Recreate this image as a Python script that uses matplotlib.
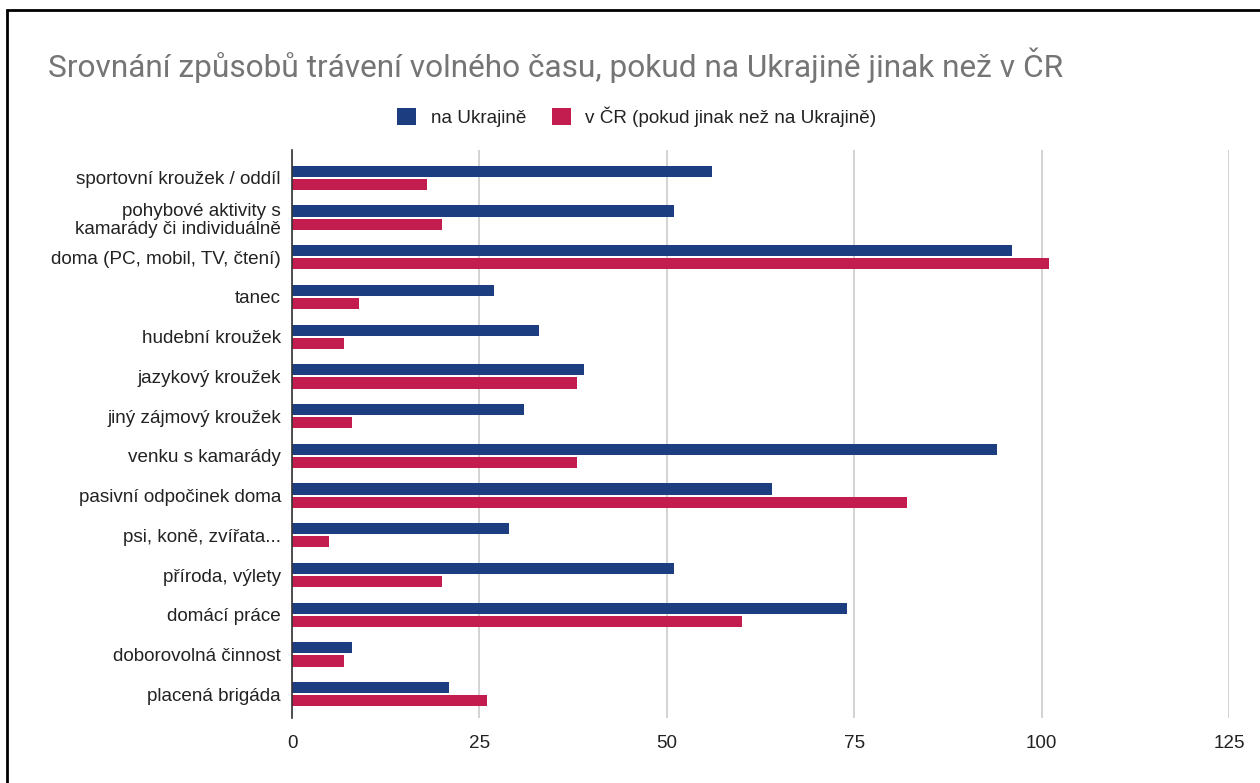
import numpy as np
import matplotlib
matplotlib.use("Agg")
import matplotlib.pyplot as plt
from matplotlib.patches import Rectangle, Patch

# data
categories = [
    "sportovní kroužek / oddíl",
    "pohybové aktivity s\nkamarády či individuálně",
    "doma (PC, mobil, TV, čtení)",
    "tanec",
    "hudební kroužek",
    "jazykový kroužek",
    "jiný zájmový kroužek",
    "venku s kamarády",
    "pasivní odpočinek doma",
    "psi, koně, zvířata...",
    "příroda, výlety",
    "domácí práce",
    "doborovolná činnost",
    "placená brigáda",
]
na_ukrajine = [56, 51, 96, 27, 33, 39, 31, 94, 64, 29, 51, 74, 8, 21]
v_cr = [18, 20, 101, 9, 7, 38, 8, 38, 82, 5, 20, 60, 7, 26]
x_ticks = [0, 25, 50, 75, 100, 125]

blue = "#1c3d7f"
red = "#c21d4e"

plt.rcParams['font.family'] = ['Liberation Sans', 'DejaVu Sans']

fig = plt.figure(figsize=(12.6, 7.83), dpi=100)
ax = fig.add_axes([292/1260, 1-718/783, (1229-292)/1260, (718-150)/783])

y = np.arange(len(categories))
h = 0.28
off = 0.165
ax.barh(y - off, na_ukrajine, height=h, color=blue, label="na Ukrajině", zorder=3)
ax.barh(y + off, v_cr, height=h, color=red, label="v ČR (pokud jinak než na Ukrajině)", zorder=3)

ax.set_xlim(0, 125)
ax.set_ylim(13.6, -0.7)
ax.set_xticks(x_ticks)
ax.set_xticklabels([str(t) for t in x_ticks], fontsize=13.6, color="#222222")
ax.set_yticks(y)
ax.set_yticklabels(categories, fontsize=13.6, color="#222222", linespacing=1.1)
ax.tick_params(axis="both", length=0)
ax.tick_params(axis="x", pad=12)
ax.tick_params(axis="y", pad=8)
ax.xaxis.grid(True, color="#cccccc", linewidth=1.2, zorder=0)
for s in ["top", "right", "bottom"]:
    ax.spines[s].set_visible(False)
ax.spines["left"].set_color("#333333")
ax.spines["left"].set_linewidth(1.2)
ax.spines["left"].set_zorder(4)

fig.text(48/1260, 1-65/783, "Srovnání způsobů trávení volného času, pokud na Ukrajině jinak než v ČR",
         fontsize=22.8, color="#757575", family=["Roboto", "DejaVu Sans"], va="center", ha="left")

handles = [Patch(facecolor=blue, edgecolor="none"), Patch(facecolor=red, edgecolor="none")]
fig.legend(handles, ["na Ukrajině", "v ČR (pokud jinak než na Ukrajině)"],
           loc="center", bbox_to_anchor=(637/1260, 1-117/783), ncol=2, frameon=False,
           fontsize=13.6, handlelength=1.0, handleheight=1.0, handletextpad=0.75, columnspacing=1.4,
           labelcolor="#222222")

# outer black frame like the screenshot
fig.patches.append(Rectangle((7/1260, -0.05), 1.1, 1-10/783 + 0.05, transform=fig.transFigure,
                             fill=False, edgecolor="black", linewidth=2))

fig.savefig("out.png", dpi=100)
